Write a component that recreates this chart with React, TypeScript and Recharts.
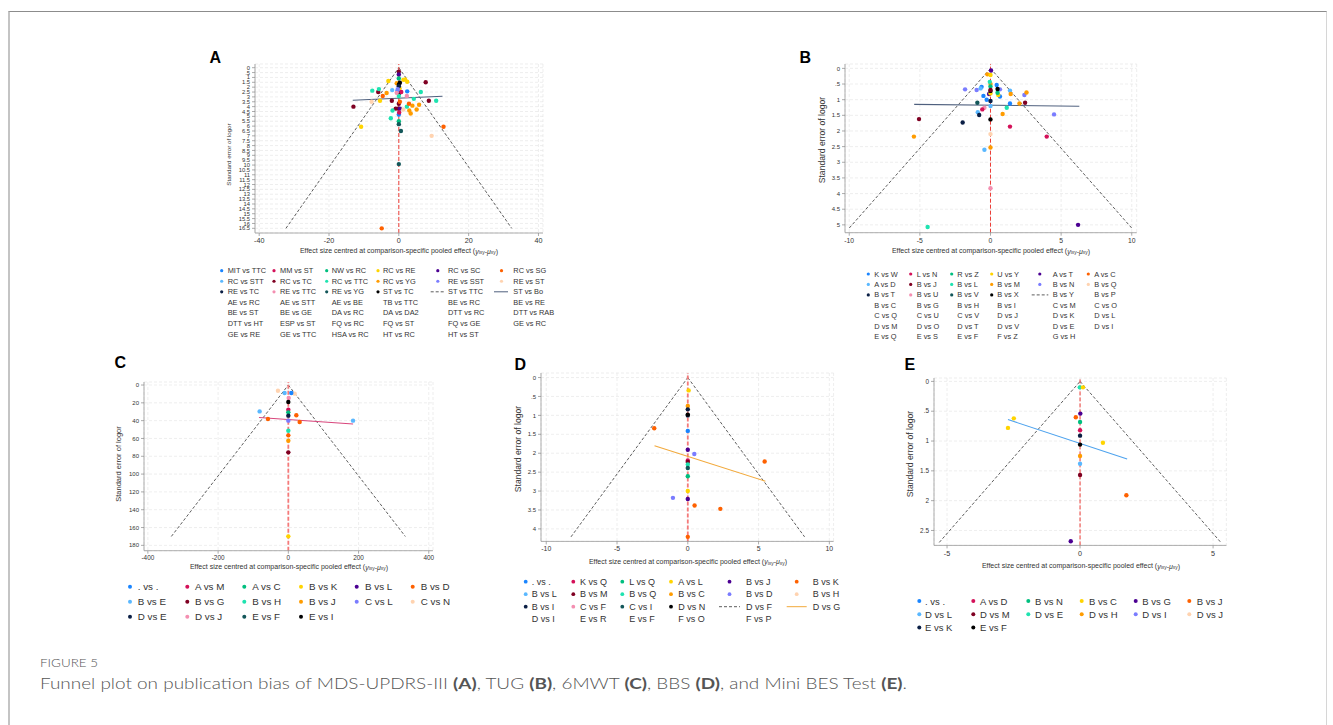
import React from 'react';
import { ScatterChart, Scatter, XAxis, YAxis, CartesianGrid, ReferenceLine } from 'recharts';

const PALETTE = [
  '#1a85ff', '#d41159', '#00bf7f', '#ffd400', '#4b0092', '#fe6100', '#5ab8ff', '#7f0022',
  '#1ee3b0', '#ff9c00', '#7a7cff', '#ffd3b0', '#0b1f45', '#f48fb1', '#13575a', '#000000',
];

// ---------------- Panel A : MDS-UPDRS-III ----------------
const A_LEGEND = [
  'MIT vs TTC', 'MM vs ST', 'NW vs RC', 'RC vs RE', 'RC vs SC', 'RC vs SG',
  'RC vs STT', 'RC vs TC', 'RC vs TTC', 'RC vs YG', 'RE vs SST', 'RE vs ST',
  'RE vs TC', 'RE vs TTC', 'RE vs YG', 'ST vs TC', 'ST vs TTC', 'ST vs Bo',
  'AE vs RC', 'AE vs STT', 'AE vs BE', 'TB vs TTC', 'BE vs RC', 'BE vs RE',
  'BE vs ST', 'BE vs GE', 'DA vs RC', 'DA vs DA2', 'DTT vs RC', 'DTT vs RAB',
  'DTT vs HT', 'ESP vs ST', 'FQ vs RC', 'FQ vs ST', 'FQ vs GE', 'GE vs RC',
  'GE vs RE', 'GE vs TTC', 'HSA vs RC', 'HT vs RC', 'HT vs ST',
];
const A_POINTS = [
  { s: 'RC vs TC', x: 0, y: 0.4 }, { s: 'RC vs TC', x: 7.7, y: 1.5 }, { s: 'RC vs TC', x: -5.9, y: 2.5 },
  { s: 'RC vs TC', x: -2.0, y: 3.4 }, { s: 'RC vs TC', x: 8.6, y: 3.4 }, { s: 'RC vs TC', x: 0, y: 3.7 },
  { s: 'RC vs TC', x: -13.0, y: 4.0 }, { s: 'RC vs TC', x: -0.9, y: 4.2 }, { s: 'RC vs TC', x: -0.2, y: 4.2 },
  { s: 'RC vs SC', x: 0, y: 0.7 }, { s: 'RC vs SC', x: 0.3, y: 4.2 },
  { s: 'NW vs RC', x: 0, y: 1.1 }, { s: 'NW vs RC', x: 0, y: 5.5 },
  { s: 'RC vs RE', x: 1.3, y: 1.25 }, { s: 'RC vs RE', x: 1.8, y: 1.2 }, { s: 'RC vs RE', x: 2.4, y: 1.44 },
  { s: 'RC vs RE', x: -3.0, y: 1.37 }, { s: 'RC vs RE', x: 0.2, y: 2.1 }, { s: 'RC vs RE', x: -5.4, y: 3.4 },
  { s: 'RC vs RE', x: -10.8, y: 6.06 },
  { s: 'RC vs YG', x: -0.6, y: 1.6 }, { s: 'RC vs YG', x: -3.5, y: 2.6 }, { s: 'RC vs YG', x: 3.9, y: 3.9 },
  { s: 'RC vs YG', x: 5.8, y: 3.8 }, { s: 'RC vs YG', x: 3.0, y: 4.4 }, { s: 'RC vs YG', x: 5.1, y: 4.3 },
  { s: 'RC vs YG', x: 3.4, y: 4.7 },
  { s: 'ST vs TC', x: 0.3, y: 1.55 }, { s: 'ST vs TC', x: 0, y: 1.75 }, { s: 'ST vs TC', x: 0.1, y: 2.6 },
  { s: 'RC vs TTC', x: -5.7, y: 2.2 }, { s: 'RC vs TTC', x: -7.6, y: 2.36 }, { s: 'RC vs TTC', x: 6.3, y: 2.5 },
  { s: 'RC vs TTC', x: 0, y: 2.9 }, { s: 'RC vs TTC', x: 4.3, y: 3.2 }, { s: 'RC vs TTC', x: 10.7, y: 3.4 },
  { s: 'RC vs TTC', x: 2.3, y: 4.0 }, { s: 'RC vs TTC', x: -1.8, y: 4.4 }, { s: 'RC vs TTC', x: -2.3, y: 5.2 },
  { s: 'RC vs STT', x: -1.9, y: 2.3 },
  { s: 'MIT vs TTC', x: -0.4, y: 2.4 }, { s: 'MIT vs TTC', x: 2.4, y: 2.43 }, { s: 'MIT vs TTC', x: 0, y: 4.8 },
  { s: 'MM vs ST', x: 0.7, y: 2.5 }, { s: 'MM vs ST', x: 0.1, y: 4.6 },
  { s: 'RE vs TTC', x: -0.6, y: 2.57 }, { s: 'RE vs TTC', x: 2.3, y: 2.9 },
  { s: 'RC vs SG', x: -4.6, y: 2.9 }, { s: 'RC vs SG', x: 0.3, y: 3.5 }, { s: 'RC vs SG', x: 2.9, y: 3.7 },
  { s: 'RC vs SG', x: 12.8, y: 6.06 }, { s: 'RC vs SG', x: -4.9, y: 16.5 },
  { s: 'RE vs ST', x: -7.8, y: 3.5 }, { s: 'RE vs ST', x: 1.3, y: 4.3 }, { s: 'RE vs ST', x: 9.4, y: 7.0 },
  { s: 'RE vs YG', x: 0, y: 5.8 }, { s: 'RE vs YG', x: 0.6, y: 6.5 }, { s: 'RE vs YG', x: 0, y: 9.9 },
  { s: 'RE vs TC', x: 0, y: 1.9 },
  { s: 'RE vs SST', x: -0.3, y: 2.2 },
];
const A_FUNNEL_SE = 16.5;
const A_REG = [{ x: -13.2, y: 3.35 }, { x: 12.5, y: 2.94 }];
const A_X_TICKS = [-40, -20, 0, 20, 40];
const A_Y_TICKS = [0, 0.5, 1, 1.5, 2, 2.5, 3, 3.5, 4, 4.5, 5, 5.5, 6, 6.5, 7, 7.5, 8, 8.5, 9, 9.5, 10, 10.5, 11, 11.5, 12, 12.5, 13, 13.5, 14, 14.5, 15, 15.5, 16, 16.5];

// ---------------- Panel B : TUG ----------------
const B_LEGEND = [
  'K vs W', 'L vs N', 'R vs Z', 'U vs Y', 'A vs T', 'A vs C',
  'A vs D', 'B vs J', 'B vs L', 'B vs M', 'B vs N', 'B vs Q',
  'B vs T', 'B vs U', 'B vs V', 'B vs X', 'B vs Y', 'B vs P',
  'B vs C', 'B vs G', 'B vs H', 'B vs I', 'C vs M', 'C vs O',
  'C vs Q', 'C vs U', 'C vs V', 'D vs J', 'D vs K', 'D vs L',
  'D vs M', 'D vs O', 'D vs T', 'D vs V', 'D vs E', 'D vs I',
  'E vs Q', 'E vs S', 'E vs F', 'F vs Z', 'G vs H',
];
const B_POINTS = [
  { s: 'K vs W', x: 0.44, y: 0.53 }, { s: 'K vs W', x: -0.5, y: 0.88 }, { s: 'K vs W', x: 0.67, y: 0.9 },
  { s: 'K vs W', x: -0.27, y: 1.0 }, { s: 'K vs W', x: 1.38, y: 1.12 }, { s: 'K vs W', x: -0.63, y: 0.59 },
  { s: 'A vs D', x: -0.7, y: 0.64 }, { s: 'A vs D', x: 1.38, y: 0.71 }, { s: 'A vs D', x: 0, y: 1.2 },
  { s: 'A vs D', x: -0.9, y: 1.4 }, { s: 'A vs D', x: -0.43, y: 2.6 },
  { s: 'B vs N', x: -1.8, y: 0.67 }, { s: 'B vs N', x: -0.98, y: 0.69 }, { s: 'B vs N', x: 0.67, y: 0.67 },
  { s: 'B vs N', x: 2.4, y: 0.85 }, { s: 'B vs N', x: 4.5, y: 1.47 },
  { s: 'A vs T', x: 0.04, y: 0.07 }, { s: 'A vs T', x: -0.1, y: 0.82 }, { s: 'A vs T', x: 6.2, y: 5.0 },
  { s: 'B vs M', x: -0.22, y: 0.19 }, { s: 'B vs M', x: 0, y: 0.5 }, { s: 'B vs M', x: 1.43, y: 0.82 },
  { s: 'B vs M', x: 2.55, y: 0.77 }, { s: 'B vs M', x: 2.05, y: 1.12 }, { s: 'B vs M', x: 0.86, y: 1.46 },
  { s: 'B vs M', x: -5.42, y: 2.18 }, { s: 'B vs M', x: 0, y: 2.53 },
  { s: 'U vs Y', x: 0, y: 0.21 }, { s: 'U vs Y', x: 0.55, y: 0.85 }, { s: 'U vs Y', x: 0, y: 0.8 },
  { s: 'B vs L', x: -0.05, y: 0.43 }, { s: 'B vs L', x: 1.15, y: 1.26 }, { s: 'B vs L', x: -4.45, y: 5.07 },
  { s: 'R vs Z', x: 0.5, y: 0.78 }, { s: 'R vs Z', x: 0, y: 0.58 },
  { s: 'B vs X', x: 0.5, y: 0.66 }, { s: 'B vs X', x: 0, y: 1.63 }, { s: 'B vs X', x: 0, y: 0.72 },
  { s: 'B vs J', x: 0, y: 0.69 }, { s: 'B vs J', x: 2.45, y: 1.1 }, { s: 'B vs J', x: -5.06, y: 1.62 },
  { s: 'B vs T', x: 0, y: 1.04 }, { s: 'B vs T', x: -0.8, y: 1.49 }, { s: 'B vs T', x: -1.97, y: 1.73 },
  { s: 'B vs U', x: -0.43, y: 1.26 }, { s: 'B vs U', x: 0, y: 3.83 },
  { s: 'L vs N', x: -0.58, y: 1.31 }, { s: 'L vs N', x: 1.38, y: 1.86 }, { s: 'L vs N', x: 3.98, y: 2.18 },
  { s: 'B vs Q', x: 0, y: 2.1 },
  { s: 'B vs V', x: -0.93, y: 1.1 },
];
const B_FUNNEL_SE = 5.1;
const B_REG = [{ x: -5.4, y: 1.15 }, { x: 6.29, y: 1.21 }];
const B_X_TICKS = [-10, -5, 0, 5, 10];
const B_Y_TICKS = [0, 0.5, 1, 1.5, 2, 2.5, 3, 3.5, 4, 4.5, 5];

// ---------------- Panel C : 6MWT ----------------
const C_LEGEND = [
  '. vs .', 'A vs M', 'A vs C', 'B vs K', 'B vs L', 'B vs D',
  'B vs E', 'B vs G', 'B vs H', 'B vs J', 'C vs L', 'C vs N',
  'D vs E', 'D vs J', 'E vs F', 'E vs I',
];
const C_POINTS = [
  { s: 'C vs N', x: -29.5, y: 6.4 }, { s: 'C vs N', x: 18, y: 9.7 },
  { s: 'B vs E', x: -10.5, y: 9.0 }, { s: 'B vs E', x: -81.7, y: 29.6 }, { s: 'B vs E', x: 184.3, y: 40 },
  { s: '. vs .', x: 8.5, y: 9.0 },
  { s: 'D vs J', x: 1, y: 14.6 },
  { s: 'E vs I', x: 0, y: 19.1 },
  { s: 'A vs M', x: 0, y: 27.7 },
  { s: 'A vs C', x: 0, y: 30.7 },
  { s: 'D vs E', x: 0, y: 34.4 },
  { s: 'B vs D', x: 22.8, y: 34 }, { s: 'B vs D', x: -58, y: 38.2 }, { s: 'B vs D', x: 32.3, y: 41.5 },
  { s: 'B vs D', x: 0, y: 56.5 },
  { s: 'C vs L', x: 0, y: 40 },
  { s: 'B vs H', x: 0, y: 51.3 },
  { s: 'B vs J', x: 0, y: 62.5 },
  { s: 'B vs G', x: 0, y: 75.6 },
  { s: 'B vs K', x: 0, y: 169.9 },
];
const C_FUNNEL_SE = 170;
const C_REG = [{ x: -83.6, y: 36.4 }, { x: 184.4, y: 43.8 }];
const C_X_TICKS = [-400, -200, 0, 200, 400];
const C_Y_TICKS = [0, 20, 40, 60, 80, 100, 120, 140, 160, 180];

// ---------------- Panel D : BBS ----------------
const D_LEGEND = [
  '. vs .', 'K vs Q', 'L vs Q', 'A vs L', 'B vs J', 'B vs K',
  'B vs L', 'B vs M', 'B vs Q', 'B vs C', 'B vs D', 'B vs H',
  'B vs I', 'C vs F', 'C vs I', 'D vs N', 'D vs F', 'D vs G',
  'D vs I', 'E vs R', 'E vs F', 'F vs O', 'F vs P',
];
const D_POINTS = [
  { s: 'A vs L', x: 0.06, y: 0.34 }, { s: 'A vs L', x: 0, y: 3.0 },
  { s: 'B vs C', x: 0, y: 0.75 },
  { s: 'B vs I', x: 0, y: 0.84 }, { s: 'B vs I', x: 0, y: 1.0 },
  { s: 'D vs N', x: 0, y: 0.98 },
  { s: 'B vs K', x: -2.37, y: 1.34 }, { s: 'B vs K', x: 5.43, y: 2.22 }, { s: 'B vs K', x: 0.48, y: 3.38 },
  { s: 'B vs K', x: 2.3, y: 3.47 }, { s: 'B vs K', x: 0, y: 4.21 },
  { s: '. vs .', x: 0, y: 1.41 },
  { s: 'B vs J', x: 0, y: 1.91 }, { s: 'B vs J', x: 0, y: 3.21 },
  { s: 'B vs D', x: 0.46, y: 2.02 }, { s: 'B vs D', x: -1.05, y: 3.18 },
  { s: 'K vs Q', x: 0, y: 2.19 },
  { s: 'B vs M', x: 0, y: 2.23 },
  { s: 'B vs Q', x: 0, y: 2.3 },
  { s: 'C vs I', x: 0, y: 2.39 },
  { s: 'L vs Q', x: 0, y: 2.61 },
];
const D_FUNNEL_SE = 4.21;
const D_REG = [{ x: -2.35, y: 1.8 }, { x: 5.48, y: 2.74 }];
const D_X_TICKS = [-10, -5, 0, 5, 10];
const D_Y_TICKS = [0, 0.5, 1, 1.5, 2, 2.5, 3, 3.5, 4];

// ---------------- Panel E : Mini BES Test ----------------
const E_LEGEND = [
  '. vs .', 'A vs D', 'B vs N', 'B vs C', 'B vs G', 'B vs J',
  'D vs L', 'D vs M', 'D vs E', 'D vs H', 'D vs I', 'D vs J',
  'E vs K', 'E vs F',
];
const E_COLOR_INDEX = [0, 1, 2, 3, 4, 5, 6, 7, 8, 9, 10, 11, 12, 15];
const E_POINTS = [
  { s: 'D vs E', x: -0.01, y: 0.1 },
  { s: 'B vs C', x: 0.11, y: 0.1 }, { s: 'B vs C', x: -2.49, y: 0.62 }, { s: 'B vs C', x: -2.71, y: 0.78 },
  { s: 'B vs C', x: 0.86, y: 1.03 },
  { s: 'B vs G', x: 0.01, y: 0.54 }, { s: 'B vs G', x: -0.35, y: 2.68 },
  { s: 'B vs J', x: -0.16, y: 0.6 }, { s: 'B vs J', x: 1.74, y: 1.91 },
  { s: 'B vs N', x: 0, y: 0.68 },
  { s: 'A vs D', x: 0, y: 0.82 },
  { s: 'E vs K', x: 0, y: 0.91 },
  { s: 'E vs F', x: 0, y: 1.06 },
  { s: 'D vs H', x: 0, y: 1.25 },
  { s: 'D vs L', x: 0, y: 1.38 },
  { s: 'D vs M', x: 0, y: 1.57 },
];
const E_FUNNEL_SE = 2.7;
const E_REG = [{ x: -2.71, y: 0.64 }, { x: 1.77, y: 1.3 }];
const E_X_TICKS = [-5, 0, 5];
const E_Y_TICKS = [0, 0.5, 1, 1.5, 2, 2.5];

const FONT = '"Liberation Sans", Arial, sans-serif';

const fmt = (v: number) => {
  if (v === 0) return '0';
  const s = String(v);
  return s.startsWith('0.') ? s.slice(1) : s;
};

type Pt = { s: string; x: number; y: number };

function colorOf(legend: string[], name: string, colorIndex?: number[]) {
  const i = legend.indexOf(name);
  const ci = colorIndex ? colorIndex[i] : i;
  return PALETTE[ci % PALETTE.length];
}

function Panel(props: any) {
  const { rect, xDomain, yDomain, xTicks, yTicks, legend, colorIndex, points, se, reg, regColor,
    zeroColor, zeroWidth, xFs, yFs, dotR } = props;
  const YW = 40, XH = 26, MT = 2, MR = 2;
  const left = rect.l - YW;
  const top = rect.t - MT;
  const width = rect.r + MR - left;
  const height = rect.b + XH - top;
  const funnelL = [{ x: -1.96 * se, y: se }, { x: 0, y: 0 }];
  const funnelR = [{ x: 0, y: 0 }, { x: 1.96 * se, y: se }];
  const names: string[] = [];
  (points as Pt[]).forEach((p) => { if (!names.includes(p.s)) names.push(p.s); });
  return (
    <div style={{ position: 'absolute', left, top, width, height }}>
      <ScatterChart width={width} height={height} margin={{ top: MT, right: MR, bottom: 0, left: 0 }}>
        <CartesianGrid stroke="#e3e3e3" strokeDasharray="3 2" strokeWidth={0.6} />
        <XAxis type="number" dataKey="x" domain={xDomain} ticks={xTicks} interval={0} allowDataOverflow
          height={XH} tickSize={3} tickFormatter={fmt}
          tick={{ fontSize: xFs, fill: '#333', fontFamily: FONT }}
          tickLine={{ stroke: '#888', strokeWidth: 0.7 }} axisLine={{ stroke: '#999', strokeWidth: 0.8 }} />
        <YAxis type="number" dataKey="y" domain={yDomain} ticks={yTicks} interval={0} reversed allowDataOverflow
          width={YW} tickSize={3} tickFormatter={fmt}
          tick={{ fontSize: yFs, fill: '#333', fontFamily: FONT }}
          tickLine={{ stroke: '#888', strokeWidth: 0.7 }} axisLine={{ stroke: '#999', strokeWidth: 0.8 }} />
        <ReferenceLine segment={funnelL} stroke="#333" strokeDasharray="3 2" strokeWidth={0.8} ifOverflow="visible" />
        <ReferenceLine segment={funnelR} stroke="#333" strokeDasharray="3 2" strokeWidth={0.8} ifOverflow="visible" />
        <ReferenceLine x={0} stroke={zeroColor} strokeDasharray="4 2" strokeWidth={zeroWidth} />
        <ReferenceLine segment={reg} stroke={regColor} strokeWidth={1.1} ifOverflow="visible" />
        {names.map((n) => {
          const c = colorOf(legend, n, colorIndex);
          return (
            <Scatter key={n} name={n} data={(points as Pt[]).filter((p) => p.s === n)} isAnimationActive={false}
              fill={c}
              shape={(sp: any) => <circle cx={sp.cx} cy={sp.cy} r={dotR} fill={c} />} />
          );
        })}
      </ScatterChart>
    </div>
  );
}

function LegendBlock(props: any) {
  const { items, colorIndex, mx, tx, y0, dy, fs, r, dashIdx, lineIdx, keyExt, regColor } = props;
  return (
    <g fontFamily={FONT} fontSize={fs} fill="#333">
      {items.map((name: string, i: number) => {
        const col = i % 6;
        const row = Math.floor(i / 6);
        const y = y0 + row * dy;
        let key: any = null;
        if (i === dashIdx) {
          const [a, b] = keyExt[col];
          key = <line x1={a} x2={b} y1={y} y2={y} stroke="#333" strokeWidth={0.8} strokeDasharray="3 2" />;
        } else if (i === lineIdx) {
          const [a, b] = keyExt[col];
          key = <line x1={a} x2={b} y1={y} y2={y} stroke={regColor} strokeWidth={1} />;
        } else if (i < 16) {
          const ci = colorIndex ? colorIndex[i] : i;
          key = <circle cx={mx[col]} cy={y} r={r} fill={PALETTE[ci]} />;
        }
        return (
          <g key={i}>
            {key}
            <text x={tx[col]} y={y} dominantBaseline="central">{name}</text>
          </g>
        );
      })}
    </g>
  );
}

function XTitle({ x, y, fs }: any) {
  const sub = fs * 0.7;
  return (
    <text x={x} y={y} textAnchor="middle" dominantBaseline="central" fontFamily={FONT} fontSize={fs} fill="#333">
      Effect size centred at comparison-specific pooled effect (
      <tspan fontStyle="italic">y</tspan>
      <tspan fontSize={sub} dy={fs * 0.25}>ixy</tspan>
      <tspan dy={-fs * 0.25}>-</tspan>
      <tspan fontStyle="italic">μ</tspan>
      <tspan fontSize={sub} dy={fs * 0.25}>xy</tspan>
      <tspan dy={-fs * 0.25}>)</tspan>
    </text>
  );
}

function YTitle({ x, y, fs }: any) {
  return (
    <text x={x} y={y} textAnchor="middle" dominantBaseline="central" fontFamily={FONT} fontSize={fs} fill="#333"
      transform={`rotate(-90 ${x} ${y})`}>
      Standard error of logor
    </text>
  );
}

export default function App() {
  return (
    <div style={{ position: 'absolute', left: 0, top: 0, width: 1333, height: 725, background: '#fff', fontFamily: FONT, overflow: 'hidden' }}>
      <div style={{ position: 'absolute', left: 8, top: 11, width: 1316, height: 730, borderTop: '1px solid #8c8c8c', borderLeft: '2px solid #c4c4c4', borderRight: '1px solid #d6d6d6' }} />

      <Panel rect={{ l: 255, r: 543, t: 64, b: 233 }} xDomain={[-41.2, 41.3]} yDomain={[-0.38, 16.98]}
        xTicks={A_X_TICKS} yTicks={A_Y_TICKS} legend={A_LEGEND} points={A_POINTS} se={A_FUNNEL_SE} reg={A_REG}
        regColor="#4f607e" zeroColor="#ec3b35" zeroWidth={1} xFs={7.2} yFs={5.8} dotR={2.2} />
      <Panel rect={{ l: 845, r: 1136.7, t: 64, b: 232.7 }} xDomain={[-10.3, 10.35]} yDomain={[-0.14, 5.25]}
        xTicks={B_X_TICKS} yTicks={B_Y_TICKS} legend={B_LEGEND} points={B_POINTS} se={B_FUNNEL_SE} reg={B_REG}
        regColor="#4f607e" zeroColor="#ec3b35" zeroWidth={1} xFs={6.8} yFs={6} dotR={2.2} />
      <Panel rect={{ l: 144.3, r: 433.3, t: 382.3, b: 551 }} xDomain={[-411, 412]} yDomain={[-3.4, 186]}
        xTicks={C_X_TICKS} yTicks={C_Y_TICKS} legend={C_LEGEND} points={C_POINTS} se={C_FUNNEL_SE} reg={C_REG}
        regColor="#d8467c" zeroColor="#f57a7a" zeroWidth={1.8} xFs={6.4} yFs={6} dotR={2.2} />
      <Panel rect={{ l: 540.7, r: 833.3, t: 373.3, b: 541.7 }} xDomain={[-10.37, 10.3]} yDomain={[-0.12, 4.33]}
        xTicks={D_X_TICKS} yTicks={D_Y_TICKS} legend={D_LEGEND} points={D_POINTS} se={D_FUNNEL_SE} reg={D_REG}
        regColor="#f2a93b" zeroColor="#f57a7a" zeroWidth={1.8} xFs={6.9} yFs={6} dotR={2.2} />
      <Panel rect={{ l: 934.3, r: 1226.7, t: 378.3, b: 545.7 }} xDomain={[-5.49, 5.5]} yDomain={[-0.057, 2.75]}
        xTicks={E_X_TICKS} yTicks={E_Y_TICKS} legend={E_LEGEND} colorIndex={E_COLOR_INDEX} points={E_POINTS}
        se={E_FUNNEL_SE} reg={E_REG} regColor="#4ea3ee" zeroColor="#ec3b35" zeroWidth={1} xFs={7.2} yFs={6.4} dotR={2.2} />

      <svg width={1333} height={725} style={{ position: 'absolute', left: 0, top: 0, pointerEvents: 'none' }}>
        <g fontFamily={FONT} fontWeight="bold" fontSize={16} fill="#000">
          <text x={209.5} y={63.3}>A</text>
          <text x={799.5} y={63.3}>B</text>
          <text x={114.5} y={368.3}>C</text>
          <text x={514.5} y={370}>D</text>
          <text x={904.5} y={370}>E</text>
        </g>

        <XTitle x={399} y={250.7} fs={7} />
        <XTitle x={991} y={250.7} fs={7} />
        <XTitle x={289} y={566.7} fs={7} />
        <XTitle x={688} y={561} fs={7} />
        <XTitle x={1081} y={565.7} fs={7} />
        <YTitle x={228} y={154.5} fs={6.2} />
        <YTitle x={821.7} y={140} fs={8.6} />
        <YTitle x={118.3} y={464} fs={7.5} />
        <YTitle x={518.3} y={449} fs={8.6} />
        <YTitle x={910} y={454} fs={8.6} />

        <LegendBlock items={A_LEGEND} mx={[221.7, 274, 326.7, 378, 437.8, 501.5]} tx={[227.7, 280, 331.7, 383, 448, 513.3]}
          y0={270.7} dy={10.55} fs={7.4} r={1.6} dashIdx={16} lineIdx={17}
          keyExt={{ 4: [430.7, 445], 5: [494, 508] }} regColor="#4f607e" />
        <LegendBlock items={B_LEGEND} mx={[868.3, 910.7, 951.7, 991.7, 1039.8, 1088.3]} tx={[874.3, 916.7, 957.3, 997.3, 1052.7, 1094.3]}
          y0={274} dy={10.45} fs={7.4} r={1.6} dashIdx={16} lineIdx={-1}
          keyExt={{ 4: [1031.7, 1048.3] }} regColor="#4f607e" />
        <LegendBlock items={C_LEGEND} mx={[130, 187.3, 244.3, 301, 356.7, 412.7]} tx={[137.7, 195, 252.3, 309, 365, 420.7]}
          y0={586.7} dy={15} fs={9.8} r={2} dashIdx={-1} lineIdx={-1} keyExt={{}} regColor="#d8467c" />
        <LegendBlock items={D_LEGEND} mx={[525.7, 573.3, 622.3, 671, 729.5, 796.7]} tx={[531.7, 580, 629.3, 678.3, 746, 812.7]}
          y0={581.7} dy={12.5} fs={9} r={1.9} dashIdx={16} lineIdx={17}
          keyExt={{ 4: [719, 740], 5: [786.7, 806.7] }} regColor="#f2a93b" />
        <LegendBlock items={E_LEGEND} colorIndex={E_COLOR_INDEX} mx={[919.3, 973.3, 1028.3, 1081.7, 1135.7, 1189.3]}
          tx={[925, 980, 1035, 1089, 1142.3, 1196.7]}
          y0={601} dy={13.3} fs={9.5} r={2} dashIdx={-1} lineIdx={-1} keyExt={{}} regColor="#4ea3ee" />

        <g fontFamily="Lato, 'Open Sans', sans-serif" fill="#555">
          <text x={40} y={666.5} fontSize={11.5} fontWeight={300} textLength={58} lengthAdjust="spacingAndGlyphs">FIGURE 5</text>
          <text x={40} y={688.5} fontSize={15.5} fontWeight={300} textLength={867} lengthAdjust="spacingAndGlyphs">
            Funnel plot on publication bias of MDS-UPDRS-III <tspan fontWeight="bold">(A)</tspan>, TUG{' '}
            <tspan fontWeight="bold">(B)</tspan>, 6MWT <tspan fontWeight="bold">(C)</tspan>, BBS{' '}
            <tspan fontWeight="bold">(D)</tspan>, and Mini BES Test <tspan fontWeight="bold">(E)</tspan>.
          </text>
        </g>
      </svg>
    </div>
  );
}
